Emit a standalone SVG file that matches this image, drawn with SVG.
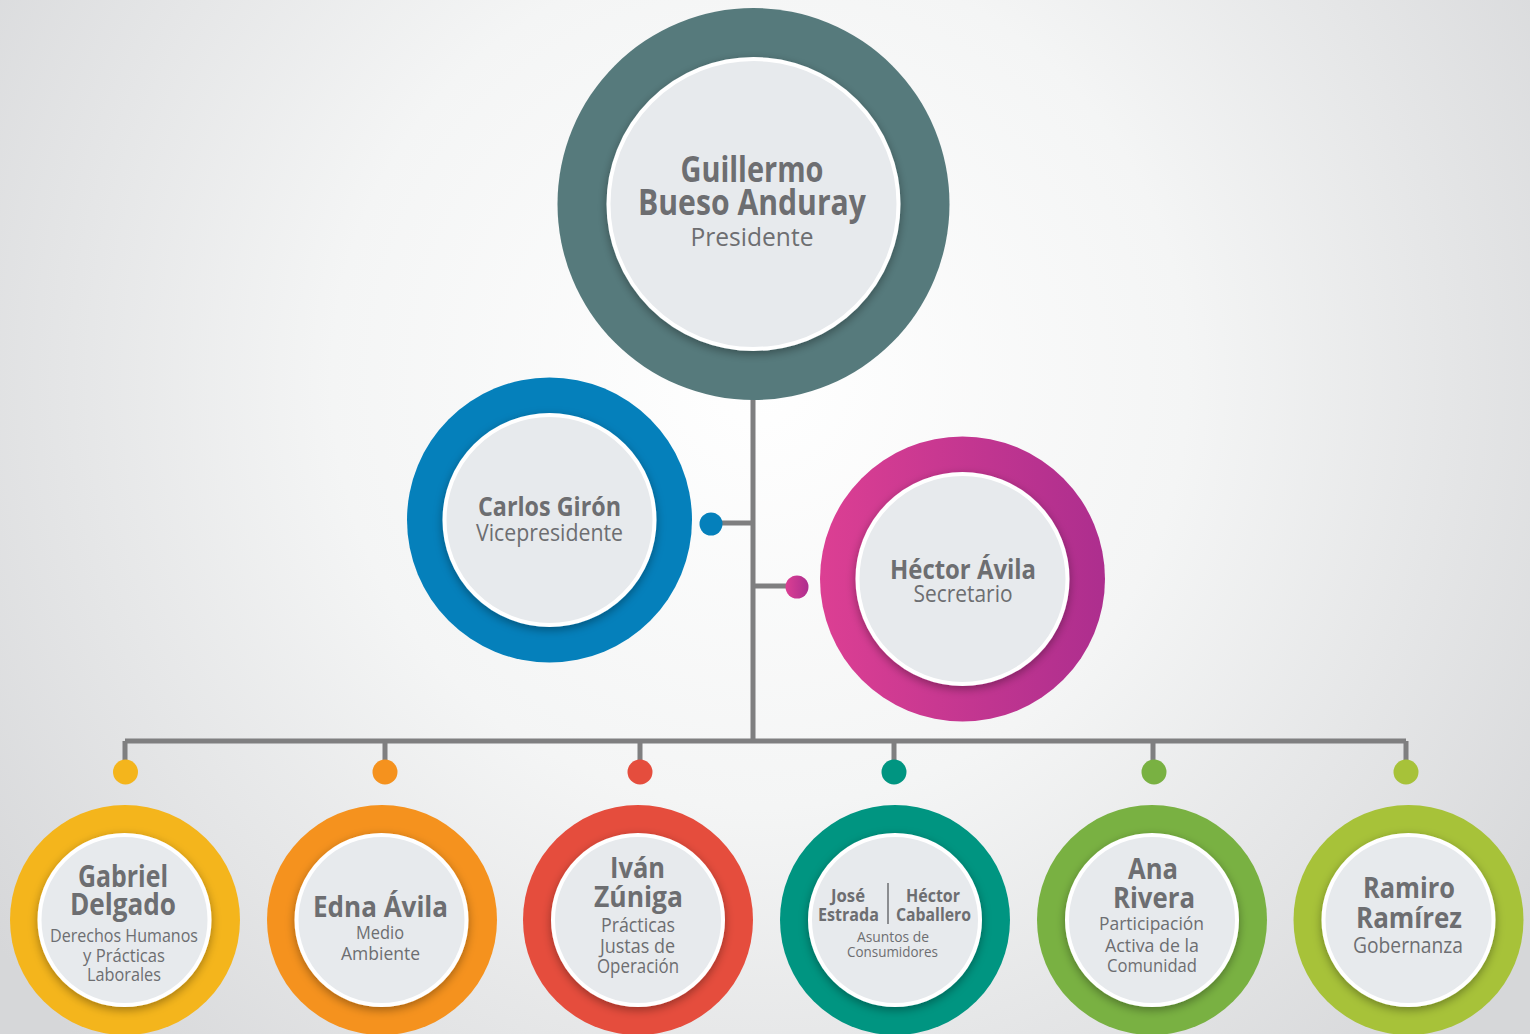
<svg xmlns="http://www.w3.org/2000/svg" width="1530" height="1034" viewBox="0 0 1530 1034">
<defs>
<radialGradient id="bg" cx="760" cy="380" r="950" gradientUnits="userSpaceOnUse">
<stop offset="0" stop-color="#ffffff"/>
<stop offset="0.45" stop-color="#f4f5f5"/>
<stop offset="1" stop-color="#d6d7d9"/>
</radialGradient>
<linearGradient id="pink" x1="0" y1="0" x2="1" y2="0">
<stop offset="0" stop-color="#dc3f93"/>
<stop offset="1" stop-color="#ad2e8e"/>
</linearGradient>
<filter id="sh" x="-30%" y="-30%" width="160%" height="160%">
<feDropShadow dx="0" dy="3" stdDeviation="5" flood-color="#000" flood-opacity="0.35"/>
</filter>
<style>
.inner{fill:#e7eaed;stroke:#ffffff;stroke-width:4;filter:url(#sh)}
.b{font-family:"Open Sans","Liberation Sans",sans-serif;font-weight:700;fill:#6d6e71;text-anchor:middle}
.r{font-family:"Open Sans","Liberation Sans",sans-serif;font-weight:400;fill:#6d6e71;text-anchor:middle}
.ln{stroke:#7f7f80;stroke-width:5;fill:none}
</style>
</defs>
<rect x="0" y="0" width="1530" height="1034" fill="url(#bg)"/>

<g id="connectors">
<path class="ln" d="M753 398V741M125 741H1406M125 741V765M385 741V765M640 741V765M894 741V765M1153 741V765M1406 741V765M711 523H753M753 586H797"/>
<circle cx="711" cy="524" r="11.5" fill="#0580bb"/>
<circle cx="797" cy="587" r="11.5" fill="url(#pink)"/>
<circle cx="125.5" cy="772" r="12.5" fill="#f4b51c"/>
<circle cx="385" cy="772" r="12.5" fill="#f5921e"/>
<circle cx="640" cy="772" r="12.5" fill="#e54d3d"/>
<circle cx="894" cy="772" r="12.5" fill="#009581"/>
<circle cx="1154" cy="772" r="12.5" fill="#79b142"/>
<circle cx="1406" cy="772" r="12.5" fill="#a7c239"/>
</g>

<g id="presidente">
<circle cx="753.5" cy="204" r="196" fill="#567a7c"/>
<circle class="inner" cx="753.5" cy="204" r="145"/>
<text class="b" x="752" y="182" font-size="35" textLength="143" lengthAdjust="spacingAndGlyphs">Guillermo</text>
<text class="b" x="752" y="215" font-size="35" textLength="228" lengthAdjust="spacingAndGlyphs">Bueso Anduray</text>
<text class="r" x="752" y="246" font-size="25" textLength="123" lengthAdjust="spacingAndGlyphs">Presidente</text>
</g>

<g id="vicepresidente">
<circle cx="549.5" cy="520" r="142.5" fill="#0580bb"/>
<circle class="inner" cx="549.5" cy="520" r="105"/>
<text class="b" x="549.5" y="516" font-size="27" textLength="143" lengthAdjust="spacingAndGlyphs">Carlos Girón</text>
<text class="r" x="549.5" y="541" font-size="23" textLength="147" lengthAdjust="spacingAndGlyphs">Vicepresidente</text>
</g>

<g id="secretario">
<circle cx="962.5" cy="579" r="142.5" fill="url(#pink)"/>
<circle class="inner" cx="962.5" cy="579" r="105"/>
<text class="b" x="963" y="579" font-size="26" textLength="146" lengthAdjust="spacingAndGlyphs">Héctor Ávila</text>
<text class="r" x="963" y="602" font-size="23" textLength="99" lengthAdjust="spacingAndGlyphs">Secretario</text>
</g>

<g id="gabriel">
<circle cx="125" cy="920" r="115" fill="#f4b51c"/>
<circle class="inner" cx="124.5" cy="920" r="85"/>
<text class="b" x="123" y="887" font-size="30" textLength="90" lengthAdjust="spacingAndGlyphs">Gabriel</text>
<text class="b" x="123" y="915" font-size="30" textLength="106" lengthAdjust="spacingAndGlyphs">Delgado</text>
<text class="r" x="124" y="942" font-size="18" textLength="148" lengthAdjust="spacingAndGlyphs">Derechos Humanos</text>
<text class="r" x="124" y="962" font-size="18" textLength="82" lengthAdjust="spacingAndGlyphs">y Prácticas</text>
<text class="r" x="124" y="981" font-size="18" textLength="74" lengthAdjust="spacingAndGlyphs">Laborales</text>
</g>

<g id="edna">
<circle cx="382" cy="920" r="115" fill="#f5921e"/>
<circle class="inner" cx="381.5" cy="920" r="85"/>
<text class="b" x="380.5" y="917" font-size="28" textLength="135" lengthAdjust="spacingAndGlyphs">Edna Ávila</text>
<text class="r" x="380" y="939" font-size="19" textLength="48" lengthAdjust="spacingAndGlyphs">Medio</text>
<text class="r" x="380.5" y="960" font-size="19" textLength="79" lengthAdjust="spacingAndGlyphs">Ambiente</text>
</g>

<g id="ivan">
<circle cx="638" cy="920" r="115" fill="#e54d3d"/>
<circle class="inner" cx="638" cy="920" r="85"/>
<text class="b" x="637.5" y="878" font-size="28" textLength="55" lengthAdjust="spacingAndGlyphs">Iván</text>
<text class="b" x="638.5" y="907" font-size="28" textLength="89" lengthAdjust="spacingAndGlyphs">Zúniga</text>
<text class="r" x="638" y="932" font-size="20" textLength="74" lengthAdjust="spacingAndGlyphs">Prácticas</text>
<text class="r" x="637.5" y="953" font-size="20" textLength="75" lengthAdjust="spacingAndGlyphs">Justas de</text>
<text class="r" x="638" y="973" font-size="20" textLength="82" lengthAdjust="spacingAndGlyphs">Operación</text>
</g>

<g id="jose-hector">
<circle cx="895" cy="920" r="115" fill="#009581"/>
<circle class="inner" cx="895" cy="920" r="85"/>
<text class="b" x="848" y="902" font-size="18" textLength="34" lengthAdjust="spacingAndGlyphs">José</text>
<text class="b" x="848.5" y="921" font-size="18" textLength="61" lengthAdjust="spacingAndGlyphs">Estrada</text>
<line x1="888" y1="883" x2="888" y2="924" stroke="#6d6e71" stroke-width="1.5"/>
<text class="b" x="933" y="902" font-size="18" textLength="54" lengthAdjust="spacingAndGlyphs">Héctor</text>
<text class="b" x="933.5" y="921" font-size="18" textLength="75" lengthAdjust="spacingAndGlyphs">Caballero</text>
<text class="r" x="893" y="942" font-size="15" textLength="72" lengthAdjust="spacingAndGlyphs">Asuntos de</text>
<text class="r" x="892.5" y="957" font-size="15" textLength="91" lengthAdjust="spacingAndGlyphs">Consumidores</text>
</g>

<g id="ana">
<circle cx="1152" cy="920" r="115" fill="#79b142"/>
<circle class="inner" cx="1152" cy="920" r="85"/>
<text class="b" x="1153" y="879" font-size="28" textLength="50" lengthAdjust="spacingAndGlyphs">Ana</text>
<text class="b" x="1154" y="908" font-size="28" textLength="82" lengthAdjust="spacingAndGlyphs">Rivera</text>
<text class="r" x="1151.5" y="930" font-size="19" textLength="105" lengthAdjust="spacingAndGlyphs">Participación</text>
<text class="r" x="1152" y="952" font-size="19" textLength="94" lengthAdjust="spacingAndGlyphs">Activa de la</text>
<text class="r" x="1152" y="972" font-size="19" textLength="90" lengthAdjust="spacingAndGlyphs">Comunidad</text>
</g>

<g id="ramiro">
<circle cx="1408.5" cy="920" r="115" fill="#a7c239"/>
<circle class="inner" cx="1408.5" cy="920" r="85"/>
<text class="b" x="1409" y="898" font-size="28" textLength="92" lengthAdjust="spacingAndGlyphs">Ramiro</text>
<text class="b" x="1409" y="928" font-size="28" textLength="106" lengthAdjust="spacingAndGlyphs">Ramírez</text>
<text class="r" x="1408" y="953" font-size="21" textLength="110" lengthAdjust="spacingAndGlyphs">Gobernanza</text>
</g>
</svg>
